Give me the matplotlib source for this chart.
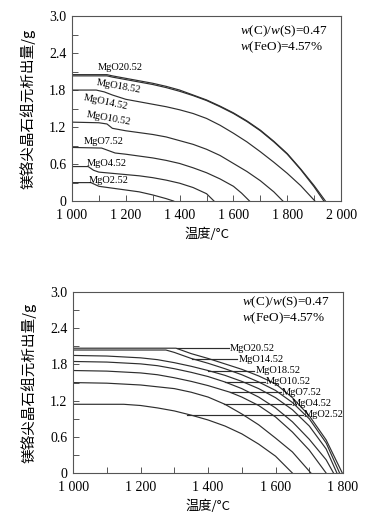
import numpy as np
import matplotlib
matplotlib.use("Agg")
import matplotlib.pyplot as plt
from matplotlib.ticker import MultipleLocator, FixedLocator

plt.rcParams['font.family'] = ['Liberation Serif', 'Noto Sans CJK SC']
plt.rcParams['mathtext.fontset'] = 'custom'
plt.rcParams['mathtext.rm'] = 'Liberation Serif'
plt.rcParams['mathtext.it'] = 'Liberation Serif:italic'

# ---- top panel data: temperature (C) vs precipitated amount (g)
top_curves = {
    "MgO20.52": ([1000, 1130, 1150, 1200, 1250, 1300, 1350, 1400, 1450, 1500, 1550, 1600, 1650, 1700, 1750, 1800, 1850, 1900, 1942],
                 [2.05, 2.05, 2.03, 1.99, 1.95, 1.91, 1.86, 1.80, 1.72, 1.64, 1.54, 1.43, 1.30, 1.15, 0.97, 0.77, 0.52, 0.25, 0.0]),
    "MgO18.52": ([1000, 1130, 1150, 1200, 1250, 1300, 1350, 1400, 1450, 1500, 1550, 1600, 1650, 1700, 1750, 1800, 1850, 1900, 1936],
                 [2.03, 2.03, 2.01, 1.97, 1.93, 1.89, 1.84, 1.78, 1.71, 1.63, 1.53, 1.42, 1.29, 1.14, 0.96, 0.76, 0.51, 0.23, 0.0]),
    "MgO14.52": ([1000, 1090, 1120, 1150, 1200, 1250, 1300, 1350, 1400, 1450, 1500, 1550, 1600, 1650, 1700, 1750, 1800, 1850, 1903],
                 [1.80, 1.80, 1.77, 1.72, 1.65, 1.61, 1.57, 1.53, 1.48, 1.42, 1.34, 1.23, 1.10, 0.96, 0.80, 0.63, 0.45, 0.25, 0.0]),
    "MgO10.52": ([1000, 1100, 1130, 1150, 1200, 1250, 1300, 1350, 1400, 1450, 1500, 1550, 1600, 1650, 1700, 1750, 1784],
                 [1.28, 1.27, 1.25, 1.18, 1.14, 1.11, 1.08, 1.04, 0.98, 0.92, 0.84, 0.74, 0.61, 0.48, 0.33, 0.15, 0.0]),
    "MgO7.52": ([1000, 1110, 1135, 1160, 1200, 1250, 1300, 1350, 1400, 1450, 1500, 1550, 1600, 1630, 1660],
                [0.87, 0.86, 0.82, 0.78, 0.76, 0.73, 0.70, 0.66, 0.61, 0.54, 0.46, 0.36, 0.24, 0.13, 0.0]),
    "MgO4.52": ([1000, 1060, 1080, 1100, 1150, 1200, 1250, 1300, 1350, 1400, 1450, 1500, 1528],
                [0.56, 0.56, 0.50, 0.47, 0.45, 0.43, 0.41, 0.38, 0.34, 0.29, 0.22, 0.12, 0.0]),
    "MgO2.52": ([1000, 1070, 1085, 1100, 1150, 1200, 1250, 1300, 1350, 1378],
                [0.30, 0.30, 0.27, 0.24, 0.21, 0.18, 0.15, 0.10, 0.04, 0.0]),
}
# label position (T, value, rotation)
top_labels = {
    "MgO20.52": (1178, 2.17, 0),
    "MgO18.52": (1172, 1.86, -10),
    "MgO14.52": (1125, 1.60, -12),
    "MgO10.52": (1136, 1.34, -10),
    "MgO7.52": (1116, 0.97, 0),
    "MgO4.52": (1130, 0.61, 0),
    "MgO2.52": (1137, 0.34, 0),
}

# ---- bottom panel data
bot_curves = {
    "MgO20.52": ([1000, 1305, 1350, 1400, 1450, 1500, 1550, 1600, 1650, 1700, 1750, 1798],
                 [2.07, 2.07, 1.98, 1.90, 1.81, 1.72, 1.61, 1.48, 1.25, 0.95, 0.55, 0.0]),
    "MgO14.52": ([1000, 1275, 1300, 1350, 1400, 1450, 1500, 1550, 1600, 1650, 1700, 1750, 1790],
                 [2.04, 2.04, 2.00, 1.90, 1.82, 1.73, 1.63, 1.51, 1.37, 1.17, 0.90, 0.50, 0.0]),
    "MgO18.52": ([1000, 1100, 1200, 1250, 1300, 1350, 1400, 1450, 1500, 1550, 1600, 1650, 1700, 1750, 1782],
                 [1.95, 1.94, 1.91, 1.88, 1.83, 1.77, 1.70, 1.62, 1.52, 1.40, 1.25, 1.05, 0.78, 0.40, 0.0]),
    "MgO10.52": ([1000, 1100, 1200, 1250, 1300, 1350, 1400, 1450, 1500, 1550, 1600, 1650, 1700, 1750, 1772],
                 [1.85, 1.84, 1.81, 1.78, 1.73, 1.67, 1.60, 1.51, 1.40, 1.26, 1.08, 0.85, 0.56, 0.22, 0.0]),
    "MgO7.52": ([1000, 1100, 1200, 1250, 1300, 1350, 1400, 1465, 1500, 1550, 1600, 1650, 1700, 1750],
                [1.70, 1.69, 1.66, 1.63, 1.58, 1.52, 1.45, 1.34, 1.26, 1.12, 0.93, 0.68, 0.38, 0.0]),
    "MgO4.52": ([1000, 1100, 1200, 1300, 1350, 1400, 1450, 1500, 1550, 1600, 1650, 1705],
                [1.50, 1.49, 1.46, 1.40, 1.34, 1.26, 1.14, 0.98, 0.80, 0.58, 0.35, 0.0]),
    "MgO2.52": ([1000, 1150, 1200, 1250, 1300, 1350, 1400, 1450, 1500, 1550, 1600, 1650],
                [1.14, 1.14, 1.12, 1.08, 1.03, 0.96, 0.88, 0.78, 0.65, 0.48, 0.28, 0.0]),
}
# leader: (start T, value, label T)
bot_labels = {
    "MgO20.52": (1307, 2.07, 1465),
    "MgO14.52": (1351, 1.89, 1490),
    "MgO18.52": (1401, 1.70, 1540),
    "MgO10.52": (1450, 1.51, 1572),
    "MgO7.52": (1465, 1.34, 1619),
    "MgO4.52": (1446, 1.15, 1649),
    "MgO2.52": (1337, 0.97, 1685),
}

ylabel = "镁铬尖晶石组元析出量/g"
xlabel = "温度/°C"
note1 = r"$\it{w}$(C)/$\it{w}$(S)=0.47"
note2 = r"$\it{w}$(FeO)=4.57%"
line_col = "#2e2e2e"

fig = plt.figure(figsize=(3.79, 5.17), dpi=100)
ax1 = fig.add_axes([0.190, 0.611, 0.710, 0.358])
ax2 = fig.add_axes([0.193, 0.085, 0.712, 0.350])


def style(ax, xmax, note_y):
    ax.set_xlim(1000, xmax)
    ax.set_ylim(0, 3.0)
    xt = list(range(1000, xmax + 1, 200))
    ax.xaxis.set_major_locator(FixedLocator(xt))
    ax.set_xticklabels([f"{t // 1000} {t % 1000:03d}" for t in xt])
    ax.xaxis.set_minor_locator(MultipleLocator(100))
    yt = [0, 0.6, 1.2, 1.8, 2.4, 3.0]
    ax.yaxis.set_major_locator(FixedLocator(yt))
    ax.set_yticklabels(["0", "0.6", "1.2", "1.8", "2.4", "3.0"])
    ax.yaxis.set_minor_locator(MultipleLocator(0.3))
    ax.tick_params(which='both', direction='in', labelsize=10, width=0.7,
                   color='#555555', length=4)
    ax.tick_params(axis='x', which='major', pad=6)
    ax.tick_params(axis='y', which='major', pad=4)
    for s in ax.spines.values():
        s.set_linewidth(0.8)
        s.set_color('#555555')
    ax.set_ylabel(ylabel, family=['Noto Sans CJK SC'], fontsize=10.5, labelpad=10)
    ax.set_xlabel(xlabel, family=['Noto Sans CJK SC', 'DejaVu Sans'], fontsize=9.5, labelpad=4)
    ax.text(0.625, note_y[0], note1, transform=ax.transAxes, fontsize=9.5, ha='left', va='center')
    ax.text(0.625, note_y[1], note2, transform=ax.transAxes, fontsize=9.5, ha='left', va='center')


for name, (t, v) in top_curves.items():
    ax1.plot(t, v, color=line_col, lw=0.85)
    lx, ly, rot = top_labels[name]
    ax1.text(lx, ly, name, fontsize=7.5, ha='center', va='center', rotation=rot)
style(ax1, 2000, (0.92, 0.83))

for name, (t, v) in bot_curves.items():
    ax2.plot(t, v, color=line_col, lw=0.85)
    x0, ly, lx = bot_labels[name]
    ax2.plot([x0, lx - 4], [ly, ly], color=line_col, lw=0.85)
    ax2.text(lx, ly, name, fontsize=7.5, ha='left', va='center', clip_on=False)
style(ax2, 1800, (0.945, 0.855))

fig.savefig("out.png", dpi=100)
